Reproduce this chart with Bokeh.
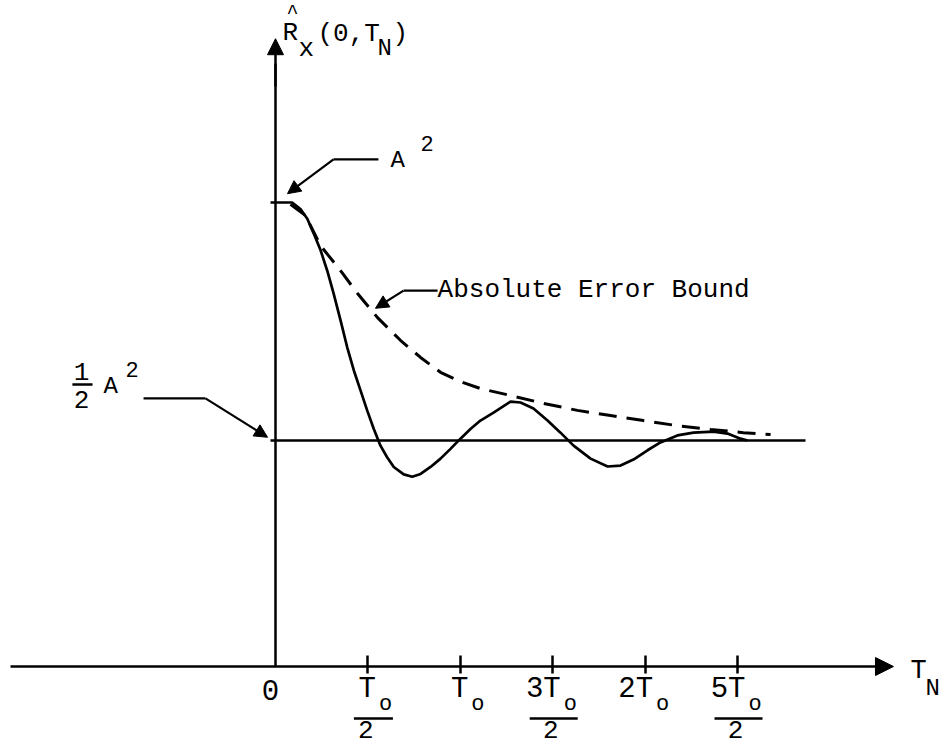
from bokeh.plotting import figure
from bokeh.models import Range1d, LinearAxis, FixedTicker, Arrow, NormalHead, ColumnDataSource
from bokeh.core.properties import value
from bokeh.embed import file_html
from bokeh.resources import INLINE

# ---------------- data (x in units of T0, y in units of A^2) ----------------
solid_x = [0.0, 0.090, 0.135, 0.172, 0.207, 0.244, 0.280, 0.315, 0.352, 0.388,
           0.424, 0.460, 0.496, 0.532, 0.568, 0.604, 0.640, 0.694, 0.740, 0.785,
           0.839, 0.893, 0.947, 1.001, 1.055, 1.109, 1.180, 1.272, 1.326, 1.396,
           1.472, 1.542, 1.613, 1.705, 1.797, 1.867, 1.937, 2.013, 2.083, 2.175,
           2.262, 2.370, 2.446, 2.516, 2.554]
solid_y = [1.000, 1.000, 0.986, 0.965, 0.933, 0.897, 0.853, 0.803, 0.746, 0.688,
           0.638, 0.595, 0.552, 0.512, 0.476, 0.451, 0.430, 0.414, 0.409, 0.415,
           0.430, 0.448, 0.469, 0.491, 0.512, 0.530, 0.547, 0.571, 0.569, 0.556,
           0.530, 0.504, 0.476, 0.448, 0.431, 0.433, 0.446, 0.466, 0.483, 0.498,
           0.504, 0.506, 0.502, 0.491, 0.487]
bound_x = [0.081, 0.162, 0.244, 0.352, 0.444, 0.552, 0.676, 0.785, 0.893, 1.001,
           1.109, 1.272, 1.450, 1.634, 1.813, 1.991, 2.175, 2.354, 2.532, 2.679]
bound_y = [0.996, 0.972, 0.907, 0.853, 0.804, 0.752, 0.703, 0.666, 0.634, 0.614,
           0.599, 0.584, 0.567, 0.552, 0.541, 0.530, 0.519, 0.511, 0.504, 0.500]
A2 = 1.0
HALF_A2 = 0.487
half_line_x = [0.0, 2.868]
tick_vals = [0.5, 1.0, 1.5, 2.0, 2.5]
tick_num = ["T", "T", "3T", "2T", "5T"]
tick_sub = ["o", "o", "o", "o", "o"]
tick_den = ["2", "", "2", "", "2"]

# ---------------- layout ----------------
W, H = 940, 747
X0_PX, XS = 275.0, 184.8   # pixel of x=0, pixels per T0
Y0_PX, YS = 666.0, 464.0   # pixel of y=0, pixels per A^2
FONT = value("Liberation Mono")
TS = -9                    # text baseline correction (px)

p = figure(width=W, height=H, output_backend="svg", toolbar_location=None,
           x_range=Range1d(-X0_PX / XS, (W - X0_PX) / XS),
           y_range=Range1d(-(H - Y0_PX) / YS, Y0_PX / YS),
           x_axis_location=None, y_axis_location=None, min_border=0)
p.grid.visible = False
p.outline_line_color = None
p.background_fill_color = "white"
p.border_fill_color = "white"

# axes through the origin
xaxis = LinearAxis(fixed_location=0, bounds=(-1.434, 3.30),
                   ticker=FixedTicker(ticks=tick_vals),
                   major_label_overrides={v: "" for v in tick_vals},
                   major_tick_in=11, major_tick_out=7,
                   axis_line_width=2.5, major_tick_line_width=2.5,
                   axis_line_color="black", major_tick_line_color="black",
                   minor_tick_line_color=None)
p.add_layout(xaxis, "below")
yaxis = LinearAxis(fixed_location=0, bounds=(0, 1.30),
                   ticker=FixedTicker(ticks=[HALF_A2, A2]),
                   major_label_overrides={HALF_A2: "", A2: ""},
                   major_tick_in=0, major_tick_out=5,
                   axis_line_width=2.5, major_tick_line_width=2.5,
                   axis_line_color="black", major_tick_line_color="black",
                   minor_tick_line_color=None)
p.add_layout(yaxis, "left")

p.add_layout(Arrow(end=NormalHead(size=18, fill_color="black", line_color="black"),
                   x_start=3.25, y_start=0, x_end=3.344, y_end=0, line_width=2.5))
p.add_layout(Arrow(end=NormalHead(size=16, fill_color="black", line_color="black"),
                   x_start=0, y_start=1.25, x_end=0, y_end=1.353, line_width=2.5))

# curves
p.line(half_line_x, [HALF_A2, HALF_A2], line_width=2.5, color="black")
p.line(solid_x, solid_y, line_width=2.7, color="black")
p.line(bound_x, bound_y, line_width=3, color="black", line_dash="18 10")

# tick labels
p.text(x=[0.0], y=[0.0], text=["0"], x_offset=-5, y_offset=32 + TS, text_align="center",
       text_baseline="alphabetic", text_font=FONT, text_font_size="29px", text_color="black")
p.text(x=tick_vals, y=[0.0] * 5, text=tick_num, x_offset=8, y_offset=32 + TS, text_align="right",
       text_baseline="alphabetic", text_font=FONT, text_font_size="29px", text_color="black")
p.text(x=tick_vals, y=[0.0] * 5, text=tick_sub, x_offset=11, y_offset=47 + TS, text_align="left",
       text_baseline="alphabetic", text_font=FONT, text_font_size="22px", text_color="black")
den_x = [t for t, d in zip(tick_vals, tick_den) if d]
den_t = [d for d in tick_den if d]
den_n = [n for n, d in zip(tick_num, tick_den) if d]
p.text(x=den_x, y=[0.0] * len(den_x), text=den_t, x_offset=-2, y_offset=72 + TS,
       text_align="center", text_baseline="alphabetic", text_font=FONT,
       text_font_size="26px", text_color="black")
bar_y = -52 / YS
p.segment(x0=[t - (5 + 9 * len(n)) / XS for t, n in zip(den_x, den_n)],
          x1=[t + 25 / XS for t in den_x],
          y0=[bar_y] * len(den_x), y1=[bar_y] * len(den_x),
          line_width=2.5, color="black")

# other labels
labels = ColumnDataSource(dict(
    x=[0.038, 0.124, 0.227, 0.552, 0.633, 3.436, 3.517, 0.622, 0.785, -0.931, -0.812, 0.877],
    y=[1.345, 1.3125, 1.343, 1.3125, 1.343, -0.030, -0.0668, 1.071, 1.108, 0.584, 0.621, 0.793],
    text=["R", "x", "(0,T", "N", ")", "T", "N", "A", "2", "A", "2", "Absolute Error Bound"],
    size=["26px", "26px", "26px", "24px", "26px", "27px", "24px", "24px", "22px", "24px", "22px", "26px"],
))
p.text(x="x", y="y", text="text", text_font_size="size", source=labels, text_align="left",
       y_offset=TS, text_baseline="alphabetic", text_font=FONT, text_color="black")
# hat over R (anchored by its top edge)
p.text(x=[0.092], y=[1.4332], text=["^"], text_align="center", text_baseline="top",
       text_font=FONT, text_font_size="20px", text_color="black")
# 1/2 fraction
p.text(x=[-1.050, -1.050], y=[0.616, 0.556], text=["1", "2"], text_align="center",
       y_offset=TS, text_baseline="alphabetic", text_font=FONT, text_font_size="26px",
       text_color="black")
p.segment(x0=[-1.099], x1=[-0.990], y0=[0.608], y1=[0.608], line_width=2.5, color="black")

# leader lines with arrows
leaders = [((0.557, 1.093), (0.314, 1.093), (0.065, 1.019)),
           ((-0.714, 0.578), (-0.379, 0.578), (-0.043, 0.494)),
           ((0.877, 0.810), (0.693, 0.810), (0.541, 0.772))]
p.multi_line(xs=[[a[0], b[0]] for a, b, c in leaders], ys=[[a[1], b[1]] for a, b, c in leaders],
             line_width=2.2, color="black")
for a, b, c in leaders:
    p.add_layout(Arrow(end=NormalHead(size=13, fill_color="black", line_color="black"),
                       x_start=b[0], y_start=b[1], x_end=c[0], y_end=c[1], line_width=2.2))

open("out.html", "w").write(file_html(p, INLINE))
